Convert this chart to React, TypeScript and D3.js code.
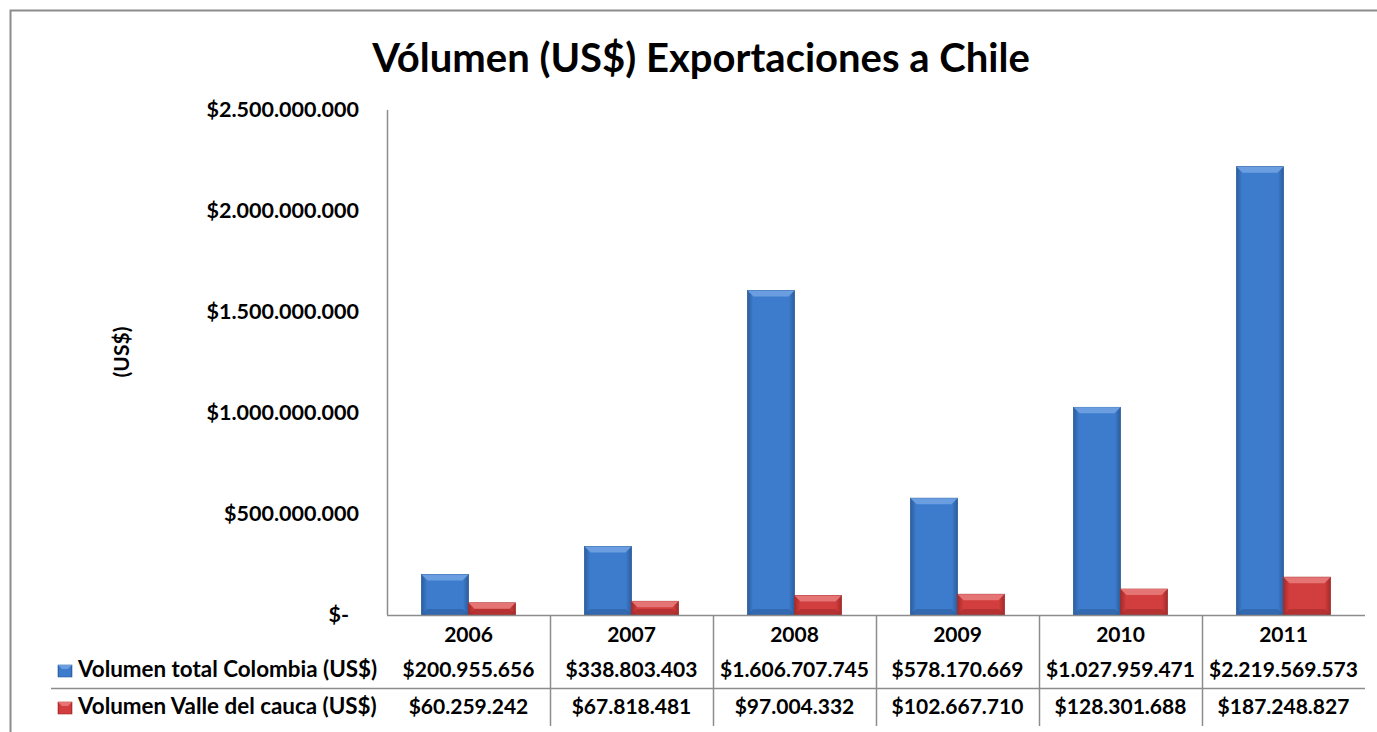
import React, { useEffect, useRef } from 'react';
import { select, scaleBand, scaleLinear } from 'd3';

const years = ['2006', '2007', '2008', '2009', '2010', '2011'];
const seriesNames = ['Volumen total Colombia (US$)', 'Volumen Valle del cauca (US$)'];
const totalColombia = [200955656, 338803403, 1606707745, 578170669, 1027959471, 2219569573];
const valleDelCauca = [60259242, 67818481, 97004332, 102667710, 128301688, 187248827];
const yTicks = [0, 500000000, 1000000000, 1500000000, 2000000000, 2500000000];

const W = 1377;
const H = 732;
const FONT = "Lato, 'Open Sans', sans-serif";

const fmt = (v: number) =>
  v === 0 ? '$-' : '$' + Math.round(v).toString().replace(/\B(?=(\d{3})+(?!\d))/g, '.');

const App: React.FC = () => {
  const svgRef = useRef<SVGSVGElement>(null);

  useEffect(() => {
    if (!svgRef.current) return;
    const svg = select(svgRef.current);
    svg.selectAll('*').remove();

    const left = 387, right = 1365, top = 110, base = 615;
    const x0 = scaleBand<string>().domain(years).range([left, right]).padding(0);
    const x1 = scaleBand<string>().domain(['a', 'b']).range([0, x0.bandwidth()]).paddingInner(0).paddingOuter(0.734);
    const y = scaleLinear().domain([0, 2500000000]).range([base, top]);

    const colors = [
      { main: '#3d7ccd', dark: '#2b5d9c', light: '#6a9ee0' },
      { main: '#d23d3d', dark: '#a32b2b', light: '#e57474' },
    ];

    const defs = svg.append('defs');
    colors.forEach((c, i) => {
      const g = defs.append('linearGradient').attr('id', `bar${i}`).attr('x1', 0).attr('x2', 1).attr('y1', 0).attr('y2', 0);
      g.append('stop').attr('offset', '0').attr('stop-color', c.dark);
      g.append('stop').attr('offset', '0.12').attr('stop-color', c.main);
      g.append('stop').attr('offset', '0.88').attr('stop-color', c.main);
      g.append('stop').attr('offset', '1').attr('stop-color', c.dark);
    });

    svg.append('rect').attr('width', W).attr('height', H).attr('fill', '#fff');
    // outer chart border (only top and left visible)
    svg.append('path').attr('d', `M10.5,${H} V10.5 H${W}`).attr('fill', 'none').attr('stroke', '#8c8c8c').attr('stroke-width', 2);

    svg.append('text')
      .attr('x', 701).attr('y', 72).attr('text-anchor', 'middle')
      .attr('font-family', FONT).attr('font-weight', 700).attr('font-size', 40)
      .attr('fill', '#000').text('Vólumen (US$) Exportaciones a Chile');

    // y label
    svg.append('text')
      .attr('transform', `translate(129,352) rotate(-90)`).attr('text-anchor', 'middle')
      .attr('font-family', FONT).attr('font-weight', 700).attr('font-size', 21)
      .text('(US$)');

    // y ticks
    svg.selectAll('.ytick').data(yTicks).enter().append('text')
      .attr('x', d => (d === 0 ? 349 : 359)).attr('y', d => y(d) + 7)
      .attr('text-anchor', 'end').attr('font-family', FONT).attr('font-weight', 700).attr('font-size', 21.5)
      .text(d => fmt(d));

    // bars
    const seriesVals = [totalColombia, valleDelCauca];
    seriesVals.forEach((vals, si) => {
      const key = si === 0 ? 'a' : 'b';
      const gBars = svg.append('g');
      years.forEach((yr, i) => {
        const bx = (x0(yr) as number) + (x1(key) as number);
        const bw = x1.bandwidth();
        const by = y(vals[i]);
        const bh = base - by;
        gBars.append('rect').attr('x', bx).attr('y', by).attr('width', bw).attr('height', bh)
          .attr('fill', `url(#bar${si})`).attr('stroke', colors[si].dark).attr('stroke-width', 0.8);
        const bev = Math.min(6, bh / 2);
        gBars.append('path')
          .attr('d', `M${bx},${by} H${bx + bw} L${bx + bw - bev},${by + bev} H${bx + bev} Z`)
          .attr('fill', colors[si].light);
        gBars.append('path')
          .attr('d', `M${bx},${base} H${bx + bw} L${bx + bw - bev},${base - bev} H${bx + bev} Z`)
          .attr('fill', colors[si].dark).attr('opacity', 0.6);
      });
    });

    // axes
    const lineColor = '#8c8c8c';
    svg.append('line').attr('x1', left + 0.5).attr('x2', left + 0.5).attr('y1', top).attr('y2', base).attr('stroke', lineColor).attr('stroke-width', 1.5);
    svg.append('line').attr('x1', left).attr('x2', right).attr('y1', base + 0.5).attr('y2', base + 0.5).attr('stroke', lineColor).attr('stroke-width', 1.5);

    // data table
    const sepY = 688, tableBottom = 726;
    years.slice(1).forEach(yr => {
      const vx = (x0(yr) as number) + 0.5;
      svg.append('line').attr('x1', vx).attr('x2', vx).attr('y1', base).attr('y2', tableBottom).attr('stroke', lineColor).attr('stroke-width', 1.5);
    });
    svg.append('line').attr('x1', 51).attr('x2', right).attr('y1', sepY + 0.5).attr('y2', sepY + 0.5).attr('stroke', lineColor).attr('stroke-width', 1.5);

    const cellText = (txt: string, cx: number, cy: number) =>
      svg.append('text').attr('x', cx).attr('y', cy).attr('text-anchor', 'middle')
        .attr('font-family', FONT).attr('font-weight', 700).attr('font-size', 21).text(txt);

    years.forEach((yr, i) => {
      const cx = (x0(yr) as number) + x0.bandwidth() / 2;
      cellText(yr, cx, 642);
      cellText(fmt(totalColombia[i]), cx, 677);
      cellText(fmt(valleDelCauca[i]), cx, 714);
    });

    // legend keys in table
    const rowY = [677, 714];
    seriesNames.forEach((name, si) => {
      const ky = rowY[si] - 12;
      svg.append('rect').attr('x', 58).attr('y', ky).attr('width', 14).attr('height', 12)
        .attr('fill', `url(#bar${si})`).attr('stroke', colors[si].dark).attr('stroke-width', 0.6);
      svg.append('path').attr('d', `M58,${ky} H72 L68,${ky + 4} H62 Z`).attr('fill', colors[si].light);
      svg.append('text').attr('x', 78).attr('y', rowY[si])
        .attr('font-family', FONT).attr('font-weight', 700).attr('font-size', 22.4).text(name);
    });
  }, []);

  return (
    <svg ref={svgRef} width={W} height={H} viewBox={`0 0 ${W} ${H}`}
      style={{ display: 'block', position: 'absolute', left: 0, top: 0 }} />
  );
};

export default App;
